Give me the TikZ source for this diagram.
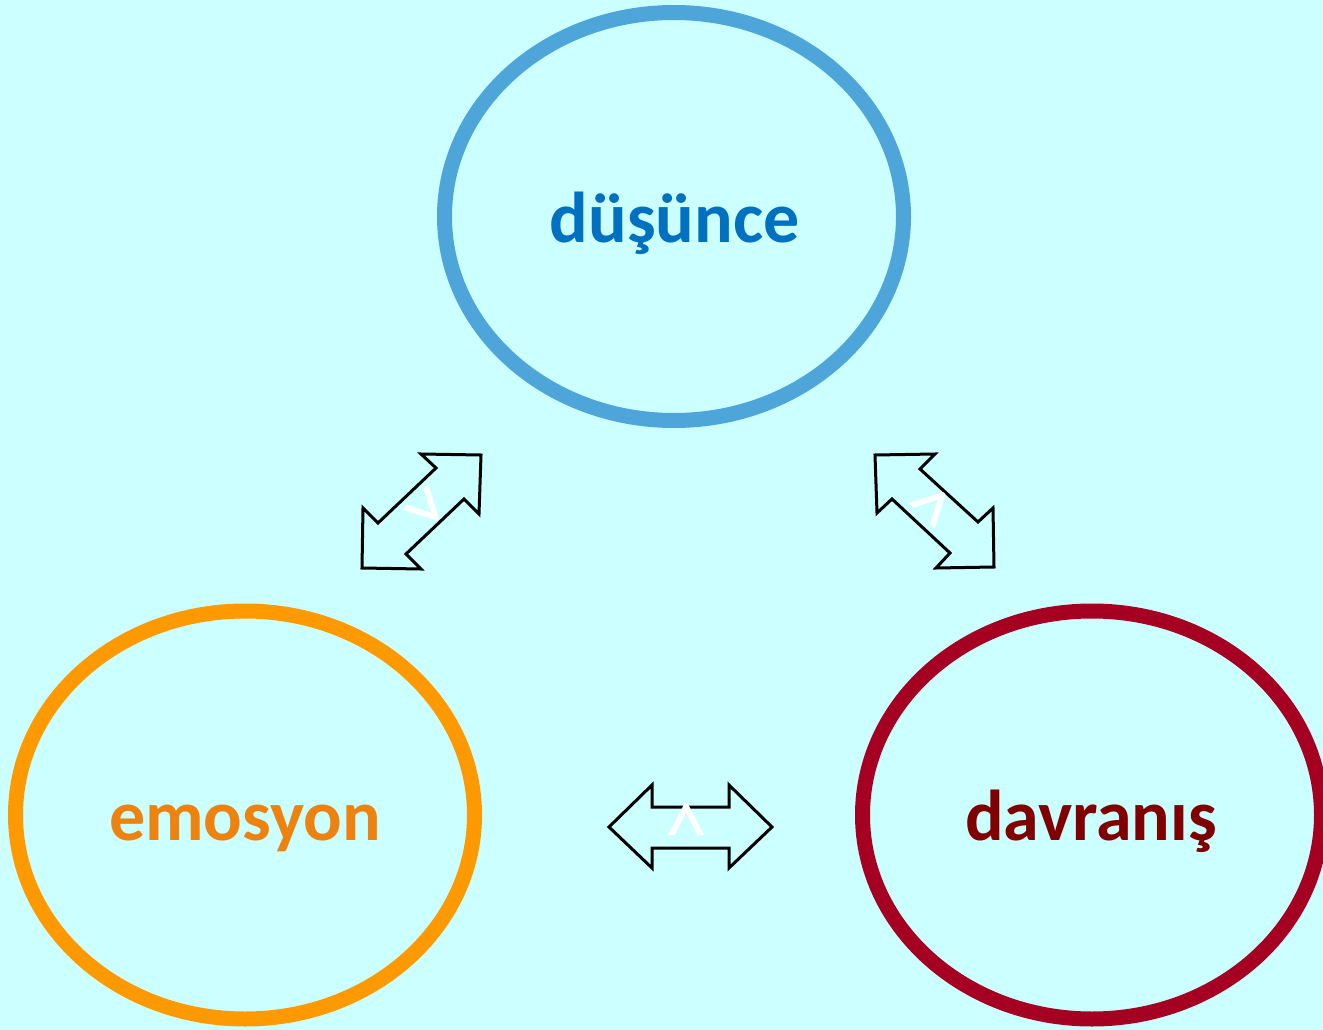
\documentclass[tikz,border=0pt]{standalone}
\usepackage{fontspec}
\setmainfont{Carlito}
\usetikzlibrary{shapes.geometric}
\definecolor{bg}{HTML}{CCFFFF}
\definecolor{blueline}{HTML}{4EA5D9}
\definecolor{bluetext}{HTML}{0070C0}
\definecolor{orangeline}{HTML}{FF9900}
\definecolor{orangetext}{HTML}{EE820F}
\definecolor{redline}{HTML}{A50021}
\definecolor{redtext}{HTML}{800000}
\tikzset{
  oval/.style={ellipse, draw, line width=15pt, minimum width=459pt, minimum height=408pt, inner sep=0pt},
  word/.style={font=\fontsize{72}{80}\selectfont\bfseries, anchor=base, inner sep=0pt},
  dblarrow/.style={draw=black, line width=3pt, line join=miter, fill=none},
  chev/.style={text=white, font=\fontsize{88}{96}\selectfont, inner sep=0pt}
}
\begin{document}
\begin{tikzpicture}[x=1pt,y=-1pt]
\fill[bg] (0,0) rectangle (1323,1030);
\useasboundingbox (0,0) rectangle (1323,1030);
% ovals
\node[oval, draw=blueline] (dus) at (674,216.5) {};
\node[oval, draw=orangeline] (emo) at (245,815) {};
\node[oval, draw=redline] (dav) at (1092,815) {};
% words
\node[word, text=bluetext] (tdus) at (674.5,242) {düşünce};
\node[word, text=orangetext] (temo) at (245,840) {emosyon};
\node[word, text=redtext] (tdav) at (1091,840) {davranış};
% double arrows
\draw[dblarrow] (481,455) -- (421,454) -- (436,468) -- (378,523) -- (363,508) -- (362,568) -- (421,569) -- (406,554) -- (464,499) -- (479,514) -- cycle;
\draw[dblarrow] (875,455) -- (935,454) -- (920,469) -- (978,522) -- (993,508) -- (994,567) -- (936,568) -- (950,553) -- (892,499) -- (877,513) -- cycle;
\draw[dblarrow] (609,827) -- (652,785) -- (652,807) -- (729,807) -- (729,785) -- (772,827) -- (729,868) -- (729,848) -- (652,848) -- (652,868) -- cycle;
% white chevrons
\node[chev, rotate=-45] (c1) at (422,511) {>};
\node[chev, rotate=45] (c2) at (936,510) {>};
\node[chev, rotate=90] (c3) at (691,822) {>};
\end{tikzpicture}
\end{document}
